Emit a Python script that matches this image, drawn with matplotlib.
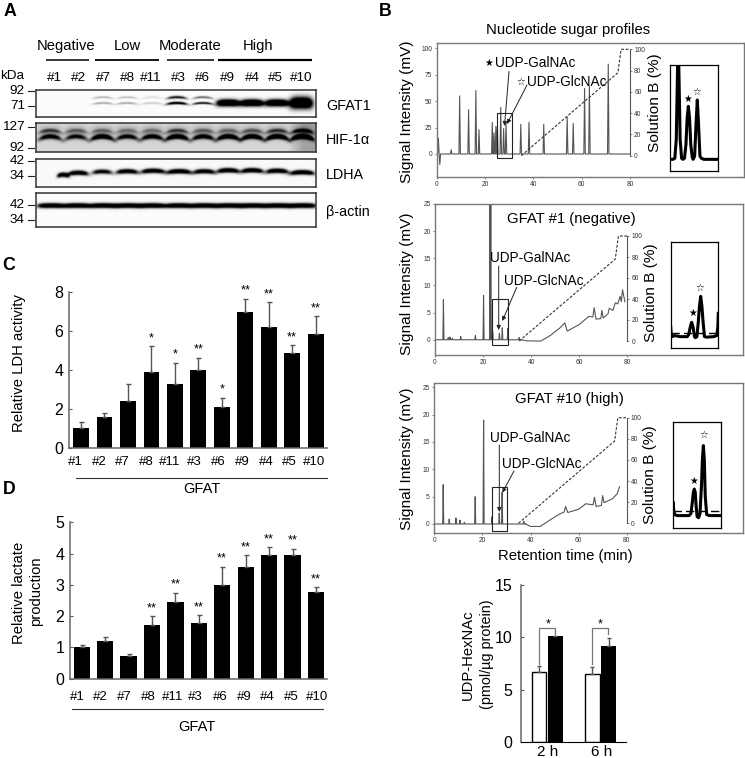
import numpy as np
import matplotlib
matplotlib.use("Agg")
import matplotlib.pyplot as plt
from matplotlib.patches import Rectangle

plt.rcParams['font.family'] = ['Liberation Sans', 'DejaVu Sans']
plt.rcParams['mathtext.default'] = 'regular'

W, H = 745, 758

# --- panel C / D / E values
lanes_cd = ['#1', '#2', '#7', '#8', '#11', '#3', '#6', '#9', '#4', '#5', '#10']
ldh = [1.0, 1.6, 2.4, 3.9, 3.25, 4.0, 2.1, 6.95, 6.2, 4.85, 5.85]
ldh_err = [0.3, 0.2, 0.85, 1.3, 1.1, 0.6, 0.45, 0.7, 1.25, 0.4, 0.9]
ldh_sig = ['', '', '', '*', '*', '**', '*', '**', '**', '**', '**']
lactate = [1.0, 1.2, 0.72, 1.72, 2.45, 1.78, 3.0, 3.58, 3.95, 3.95, 2.78]
lactate_err = [0.08, 0.13, 0.08, 0.28, 0.3, 0.25, 0.58, 0.37, 0.25, 0.2, 0.15]
lactate_sig = ['', '', '', '**', '**', '**', '**', '**', '**', '**', '**']
hexnac_times = ['2 h', '6 h']
hexnac_ctrl = [6.75, 6.5]
hexnac_ctrl_err = [0.55, 0.65]
hexnac_gfat = [10.1, 9.2]
hexnac_gfat_err = [0.05, 0.7]

# --- chromatogram peaks (min, height)
b1_t = [0.7, 1.3, 6, 9.5, 13.2, 16.2, 17.5, 23, 23.7, 24.5, 25.1, 26.5, 27.7, 28.7, 34.8, 38.2, 44.3, 54, 56.5, 61.2, 63.2, 71]
b1_h = [15, -10, 4, 55, 42, 60, 23, 30, 20, 26, 26, 44, 24, 30, 28, 30, 28, 35, 29, 62, 64, 85]
b2_t = [3.5, 5.5, 6.2, 7.2, 10.7, 16.8, 20.2, 22.9, 23.2, 24, 26.8, 28, 30.3, 35]
b2_h = [7.4, 0.4, 0.5, 0.3, 0.6, 0.8, 8.2, 27, 27, 1.5, 1.2, 2.2, 2.1, 0.4]
b2_drift_t = [36, 38, 44, 48, 52, 54, 55, 60, 64, 65.7, 66.2, 67, 69, 69.4, 70, 72, 72.5, 74, 75, 76, 77, 77.5, 78, 79]
b2_drift_y = [0, -0.2, -0.25, 0.8, 2.2, 3.1, 1.6, 2.8, 4.3, 4.2, 5.9, 3.8, 3.9, 5.4, 4.0, 4.8, 5.8, 5.4, 6.8, 6.6, 8.0, 7.0, 9.2, 7.0]
b3_t = [3.7, 6.2, 9, 10.7, 12.5, 17, 20.5, 24, 27, 28.2, 37.2]
b3_h = [7.2, 0.9, 1.1, 0.7, 0.3, 5, 19, 1.3, 2, 5.8, 0.5]
b3_drift_t = [38, 40, 44, 48, 52, 54, 54.6, 55.5, 60, 63, 66, 66.6, 67.3, 69.5, 70, 70.6, 74, 76, 77]
b3_drift_y = [0, -0.45, -0.45, 0.7, 1.8, 2.2, 3.2, 2.1, 2.7, 3.7, 3.5, 4.9, 3.2, 3.4, 5.2, 3.9, 4.6, 5.5, 6.8]
gradient_t = [0, 35, 75, 76.3, 80]
gradient_b = [0, 0, 78, 100, 100]

# --- inset traces
in1_x = [0, 6, 10, 13, 15, 17, 19, 21, 24, 27, 30, 33, 35.5, 38, 40.5, 43, 46, 48, 51, 54, 56.5, 59, 62, 65, 70, 85, 100]
in1_y = [11, 11, 12, 30, 80, 130, 80, 30, 12, 11, 12, 25, 50, 61, 50, 25, 13, 11, 14, 45, 67, 45, 14, 12, 11, 11, 11]
in2_x = [0, 1, 3, 8, 20, 35, 38, 41, 44, 47, 50, 52, 55, 58, 60.5, 63, 65.5, 68, 71, 75, 90, 97, 99, 100]
in2_y = [20, 14, 11, 12, 11, 11, 13, 20, 24.5, 20, 11, 10, 11, 25, 40, 49, 40, 25, 11, 10.5, 11, 12, 20, 33]
in3_x = [0, 1, 3, 8, 20, 33, 37, 40, 42, 44, 46, 48, 50, 53, 56, 59, 61, 63, 65, 67, 70, 75, 90, 100]
in3_y = [24, 16, 13, 12, 12, 12, 14, 25, 34, 37, 34, 20, 11, 10, 14, 40, 65, 78, 65, 30, 13, 12, 12, 12]

# --- blot bands
gfat_x = [102.7, 126.7, 152, 176.7, 202.7, 228, 251.7, 276.7, 301]
gfat_up = [0.3, 0.25, 0.12, 0.95, 0.6, 1, 1, 1, 1]
gfat_low = [0.35, 0.35, 0.2, 1.2, 0.95, 1, 1, 1, 1]
gfat_th = [1.0, 1.0, 1.0, 1.3, 1.1, 3.2, 3.2, 3.2, 5.5]
hif_x = [50, 76, 102, 127, 152, 177, 203, 228, 252, 277, 302]
hif_up = [0.6, 0.4, 0.35, 0.3, 0.3, 0.6, 0.4, 0.35, 0.45, 0.65, 0.85]
hif_low = [0.7, 0.6, 0.9, 0.65, 0.75, 0.95, 0.75, 0.9, 0.9, 1, 1]
ldha_x = [63, 78, 102, 127, 153, 179, 204, 228, 252, 277, 302]
ldha_hw = [6, 10, 10, 11, 12, 12, 11, 11, 11, 11, 12]
ldha_y = [174.5, 172.5, 171.3, 171, 170.5, 171, 171, 170, 170, 170.5, 172]
ldha_d = [0.95, 0.95, 0.75, 0.9, 0.95, 1, 0.9, 1, 1, 1, 1]
actin_x = [51, 77, 103, 127.5, 152, 178.7, 204, 229, 253, 278, 302.5]

groups = ['Negative', 'Low', 'Moderate', 'High']
group_x = [65.7, 127, 190, 258]
lanes_a = ['#1', '#2', '#7', '#8', '#11', '#3', '#6', '#9', '#4', '#5', '#10']
lanes_a_x = [54.5, 78.5, 103.5, 127, 151, 178.5, 202.5, 227.5, 252, 276, 301]
kda_labels = ['92', '71', '127', '92', '42', '34', '42', '34']
kda_y = [90.7, 106, 126.7, 148.3, 161, 176, 205, 220]


def px_axes(left, top, right, bottom, **kw):
    return fig.add_axes([left / W, 1 - bottom / H, (right - left) / W, (bottom - top) / H], **kw)


def band_layer(X, Y, xc, yc, hw, th, dark, curve):
    u = (X - xc) / hw
    return dark * np.exp(-u ** 4) * np.exp(-((Y - (yc + curve * u ** 2)) / th) ** 2)


def blot(left, top, right, bottom, img_fn):
    ax = px_axes(left, top, right, bottom)
    xs = np.arange(left, right, 0.5)
    ys = np.arange(top, bottom, 0.5)
    X, Y = np.meshgrid(xs, ys)
    img = img_fn(X, Y)
    ax.imshow(img, cmap='gray', vmin=0, vmax=1, aspect='auto', interpolation='bilinear',
              extent=[left, right, bottom, top])
    ax.set_xticks([])
    ax.set_yticks([])
    for s in ax.spines.values():
        s.set_linewidth(1.1)
        s.set_color('#333333')
    return ax


def gfat_img(X, Y):
    img = np.ones_like(X) * 0.985
    for x, u, l, t in zip(gfat_x, gfat_up, gfat_low, gfat_th):
        if t > 2:
            img -= band_layer(X, Y, x, 103.3, 11.5, t, 1.9, 0.5)
        else:
            img -= band_layer(X, Y, x, 97.8, 10, t, u, 1.2)
            img -= band_layer(X, Y, x, 103.5, 10.5, t, l, 1.2)
    return np.clip(img, 0, 1)


def hif_img(X, Y):
    img = 0.84 - 0.2 * np.clip((X - 288) / 15, 0, 1)
    for x, u, l in zip(hif_x, hif_up, hif_low):
        img -= band_layer(X, Y, x, 131.3, 11.5, 1.8, u * 0.85, 2.5)
        img -= band_layer(X, Y, x, 137.3, 11.5, 2.3, l * 1.35, 3.0)
        img -= band_layer(X, Y, x, 133, 11, 6, 0.2, 0)
    return np.clip(img, 0, 1)


def ldha_img(X, Y):
    img = np.ones_like(X) * 0.975
    for x, hw, y, d in zip(ldha_x, ldha_hw, ldha_y, ldha_d):
        img -= band_layer(X, Y, x, y, hw, 2.2, d * 1.5, 1.2)
    return np.clip(img, 0, 1)


def actin_img(X, Y):
    img = np.ones_like(X) * 0.985
    for x in actin_x:
        img -= band_layer(X, Y, x, 205.6, 13.5, 2.3, 1.6, 0.3)
    return np.clip(img, 0, 1)


def bars(rect, xlim, ylim, vals, errs, sig, yticks, width):
    ax = px_axes(*rect)
    x = np.arange(len(vals))
    ax.bar(x, vals, width=width, color='black')
    ax.errorbar(x, vals, yerr=[np.zeros(len(vals)), errs], fmt='none', ecolor='#555555',
                elinewidth=1, capsize=1.8, capthick=1)
    for xi, v, e, s in zip(x, vals, errs, sig):
        if s:
            ax.annotate(s, (xi, v + e), xytext=(0, 1.5), textcoords='offset points',
                        ha='center', va='bottom', fontsize=9.3)
    ax.set_xlim(*xlim)
    ax.set_ylim(*ylim)
    ax.set_xticks([])
    ax.set_yticks(yticks)
    ax.tick_params(axis='y', direction='in', length=2, width=0.8, color='#555555',
                   labelsize=11.5, pad=4)
    ax.spines['top'].set_visible(False)
    ax.spines['right'].set_visible(False)
    ax.spines['left'].set_color('#666666')
    ax.spines['bottom'].set_color('#666666')
    ax.spines['left'].set_linewidth(1.1)
    ax.spines['bottom'].set_linewidth(1.1)
    ax.patch.set_alpha(0)
    return ax


def peak_trace(times, heights, w):
    t = [0]
    y = [0]
    for a, b in zip(times, heights):
        t += [a - w, a, a + w]
        y += [0, b, 0]
    return t, y


def chrom(frame, t0_px, t80_px, y0_px, ytop_px, ytop, b0_px, b100_px, yticks, times, heights, w,
          drift_t=None, drift_y=None):
    left, top, right, bottom = frame
    ax = px_axes(*frame)
    sx = (t80_px - t0_px) / 80
    sy = (y0_px - ytop_px) / ytop
    ax.set_xlim((left - t0_px) / sx, (right - t0_px) / sx)
    ax.set_ylim((y0_px - bottom) / sy, (y0_px - top) / sy)
    t, y = peak_trace(times, heights, w)
    end = drift_t[0] if drift_t else 80
    t += [end]
    y += [0]
    ax.plot(t, y, color='#555555', lw=0.8)
    if drift_t:
        ax.plot(drift_t, drift_y, color='#555555', lw=0.8)
    ax.set_xticks([0, 20, 40, 60, 80])
    ax.set_yticks(yticks)
    ax.tick_params(length=1.5, width=0.5, color='#555555', labelsize=4.8, pad=1.5, labelcolor='#333333')
    for s in ax.spines.values():
        s.set_color('#777777')
        s.set_linewidth(1)

    # solution B scale sits on the right end of the time axis
    ax2 = ax.twinx()
    sb = (b0_px - b100_px) / 100
    ax2.set_ylim((b0_px - bottom) / sb, (b0_px - top) / sb)
    ax2.plot(gradient_t[1:], gradient_b[1:], color='#333333', lw=0.8, dashes=(2.5, 1.5))
    ax2.set_yticks([0, 20, 40, 60, 80, 100])
    ax2.tick_params(length=1.5, width=0.5, color='#555555', labelsize=4.8, pad=1.5, labelcolor='#333333')
    for name in ['top', 'left', 'bottom']:
        ax2.spines[name].set_visible(False)
    ax2.spines['right'].set_position(('data', 80))
    ax2.spines['right'].set_bounds(0, 100)
    ax2.spines['right'].set_color('#555555')
    ax2.spines['right'].set_linewidth(0.8)
    return ax


def inset(rect, x, y, dash=None):
    ax = px_axes(*rect)
    ax.plot(x, y, color='black', lw=2.2, solid_joinstyle='round')
    if dash is not None:
        ax.plot([0, 100], [dash, dash], color='black', lw=1, dashes=(6, 3))
    ax.set_xlim(0, 100)
    ax.set_ylim(0, 100)
    ax.set_xticks([])
    ax.set_yticks([])
    for s in ax.spines.values():
        s.set_linewidth(0.9)


fig = plt.figure(figsize=(W / 100, H / 100), dpi=100)

# panel A
blot(36, 90, 316, 117.3, gfat_img)
blot(36, 123.3, 316, 152.3, hif_img)
blot(36, 159, 316, 186.7, ldha_img)
blot(36, 193.3, 316, 227.3, actin_img)

# panel C, D
bars((69, 291.7, 327, 447.7), (-0.51, 10.48), (0, 8), ldh, ldh_err, ldh_sig, [0, 2, 4, 6, 8], 0.67)
bars((70, 522.3, 327, 678.7), (-0.5, 10.47), (0, 5), lactate, lactate_err, lactate_sig, [0, 1, 2, 3, 4, 5], 0.69)

# panel E
axe = px_axes(521, 585, 626, 742.3)
xg = np.arange(2)
axe.bar(xg - 0.15, hexnac_ctrl, width=0.27, color='white', edgecolor='black', linewidth=1)
axe.bar(xg + 0.15, hexnac_gfat, width=0.28, color='black')
axe.errorbar(xg - 0.15, hexnac_ctrl, yerr=[[0, 0], hexnac_ctrl_err], fmt='none', ecolor='#555555', elinewidth=1, capsize=1.5)
axe.errorbar(xg + 0.15, hexnac_gfat, yerr=[[0, 0], hexnac_gfat_err], fmt='none', ecolor='#555555', elinewidth=1, capsize=1.5)
axe.set_xlim(-0.486, 1.477)
axe.set_ylim(0, 15)
axe.set_xticks([])
axe.set_yticks([0, 5, 10, 15])
axe.tick_params(axis='y', direction='in', length=2, width=0.8, color='#555555', labelsize=11.5, pad=6)
axe.spines['top'].set_visible(False)
axe.spines['right'].set_visible(False)
axe.spines['left'].set_color('#666666')
axe.spines['left'].set_linewidth(1.1)
axe.patch.set_alpha(0)

# panel B
chrom((436.7, 43.3, 744, 176.7), 436.7, 630, 154, 48.3, 100, 155.7, 49.3,
      [0, 25, 50, 75, 100], b1_t, b1_h, 0.3)
chrom((435, 204, 742.7, 355), 435, 627.3, 339.7, 203.5, 25, 341, 236,
      [0, 5, 10, 15, 20, 25], b2_t, b2_h, 0.22, b2_drift_t, b2_drift_y)
chrom((434, 382.7, 742.7, 533.3), 434.3, 626.7, 524, 387.3, 25, 523.3, 417.7,
      [0, 5, 10, 15, 20, 25], b3_t, b3_h, 0.22, b3_drift_t, b3_drift_y)
inset((670, 65, 718.3, 171), in1_x, in1_y)
inset((670.7, 242.3, 718.3, 348.3), in2_x, in2_y, dash=14)
inset((673.3, 422.3, 721, 528.3), in3_x, in3_y, dash=16.7)

# everything placed by pixel goes on a clear sheet over the figure
ov = fig.add_axes([0, 0, 1, 1])
ov.set_xlim(0, W)
ov.set_ylim(H, 0)
ov.axis('off')


def t(x, y, s, size=10.6, ha='center', va='center', **kw):
    ov.text(x, y, s, fontsize=size, ha=ha, va=va, **kw)


def arrow(x0, y0, x1, y1):
    ov.annotate('', xy=(x1, y1), xytext=(x0, y0),
                arrowprops=dict(arrowstyle='-|>,head_length=0.25,head_width=0.12', lw=0.7, color='#222222',
                                shrinkA=0, shrinkB=0))


for lab, x, y in [('A', 10, 11), ('B', 385, 11), ('C', 9, 265), ('D', 9, 489)]:
    t(x, y, lab, size=12.8, fontweight='bold')

for g, x in zip(groups, group_x):
    t(x, 45.7, g, size=10.6)
for x0, x1, lw in [(46, 89.3, 1.1), (95, 159, 1.3), (166.7, 214, 1.1), (218.3, 311.7, 1.6)]:
    ov.plot([x0, x1], [60.3, 60.3], color='black', lw=lw, solid_capstyle='butt')
for lane, x in zip(lanes_a, lanes_a_x):
    t(x, 77.7, lane, size=9.7)
t(0, 75.7, 'kDa', size=9.7, ha='left')
for lab, y in zip(kda_labels, kda_y):
    t(25, y, lab, size=9.7, ha='right')
    ov.plot([27.5, 33.5], [y, y], color='#222222', lw=0.8)
for lab, y in [('GFAT1', 106), ('HIF-1α', 140), ('LDHA', 175), ('β-actin', 211.7)]:
    t(326, y, lab, size=10.4, ha='left')

lab_c_x = [75, 99, 122.3, 146, 170, 194, 218.3, 242.3, 266.7, 289.3, 314.3]
lab_d_x = [77.3, 100.7, 124.7, 148.3, 172.3, 195.7, 220.3, 244, 267.7, 291.7, 316.7]
for lane, x in zip(lanes_cd, lab_c_x):
    t(x, 461.7, lane, size=9.5)
for lane, x in zip(lanes_cd, lab_d_x):
    t(x, 696.7, lane, size=9.5)
ov.plot([76, 326.7], [478.3, 478.3], color='#333333', lw=0.8)
ov.plot([71.7, 322.7], [709.3, 709.3], color='#333333', lw=0.8)
t(201.7, 489, 'GFAT', size=10.5)
t(197, 727.3, 'GFAT', size=10.5)
t(19, 362.7, 'Relative LDH activity', size=10.7, rotation=90)
t(19, 593, 'Relative lactate', size=10.7, rotation=90)
t(35.7, 591, 'production', size=10.7, rotation=90)

t(468, 655, 'UDP-HexNAc', size=10.6, rotation=90)
t(487, 654, '(pmol/µg protein)', size=10.4, rotation=90)
for lab, x in zip(hexnac_times, [548, 602]):
    t(x, 752, lab, size=11)
for x0, x1, y0, y1, sx in [(539.3, 555.3, 664, 634, 548.7), (591.7, 607.7, 664, 634, 600)]:
    ov.plot([x0, x0, x1, x1], [y0, 628.3, 628.3, y1], color='#777777', lw=0.9)
    t(sx, 624, '*', size=9.3)

t(568, 30, 'Nucleotide sugar profiles', size=10.7)
for y in [111.7, 284, 459]:
    t(406.7, y, 'Signal Intensity (mV)', size=11.1, rotation=90)
for x, y in [(655, 103), (650.7, 292.5), (650, 475)]:
    t(x, y, 'Solution B (%)', size=11.1, rotation=90)
t(565, 556, 'Retention time (min)', size=10.7)

t(488.5, 63.3, '★', size=7)
t(495, 63.3, 'UDP-GalNAc', size=9.8, ha='left')
t(520.7, 81.7, '☆', size=7)
t(527, 81.7, 'UDP-GlcNAc', size=9.8, ha='left')
arrow(509, 71.5, 504.5, 126)
arrow(527, 85, 507, 124)
ov.add_patch(Rectangle((497.3, 112.7), 14.7, 45.6, fill=False, lw=0.8, ec='#222222'))

t(571.7, 219.3, 'GFAT #1 (negative)', size=10.7)
t(530.5, 258.3, 'UDP-GalNAc', size=9.8)
t(544, 280.7, 'UDP-GlcNAc', size=9.8)
arrow(498.7, 266, 498.7, 330)
arrow(516.7, 287.3, 502.3, 321)
ov.add_patch(Rectangle((492.3, 299), 15.4, 46, fill=False, lw=0.8, ec='#222222'))

t(569, 399, 'GFAT #10 (high)', size=10.7)
t(530, 437.7, 'UDP-GalNAc', size=9.8)
t(542, 464, 'UDP-GlcNAc', size=9.8)
arrow(499.3, 445, 499.3, 512)
arrow(514, 471, 502.3, 492.7)
ov.add_patch(Rectangle((492.3, 486.7), 15, 44.6, fill=False, lw=0.8, ec='#222222'))

for x, y, g in [(687.7, 99.3, '★'), (697, 92, '☆'), (692.3, 313.3, '★'), (700, 287.7, '☆'),
                (693.7, 480.7, '★'), (703.7, 435.3, '☆')]:
    t(x, y, g, size=7)

fig.savefig('out.png', dpi=100)
